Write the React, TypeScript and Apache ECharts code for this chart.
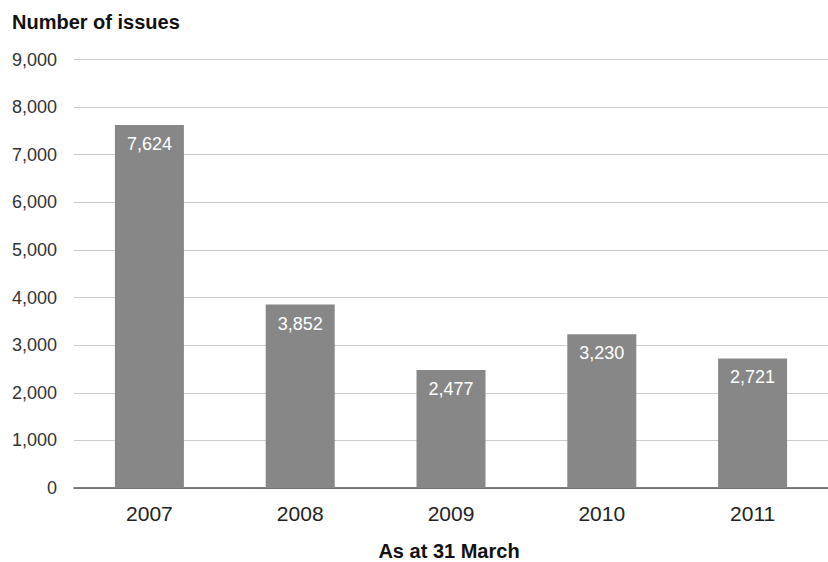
import React, { useEffect, useRef } from "react";
import * as echarts from "echarts";

const categories = ["2007", "2008", "2009", "2010", "2011"];
const values = [7624, 3852, 2477, 3230, 2721];
const yTicks = { min: 0, max: 9000, interval: 1000 };
const yTitle = "Number of issues";
const xTitle = "As at 31 March";

const FONT = "'Liberation Sans', Arial, Helvetica, sans-serif";

export default function App() {
  const ref = useRef<HTMLDivElement>(null);
  useEffect(() => {
    if (!ref.current) return;
    const chart = echarts.init(ref.current, null, { renderer: "svg" });
    chart.setOption({
      animation: false,
      backgroundColor: "#ffffff",
      grid: { left: 74, top: 59.5, width: 765, bottom: 74, containLabel: false },
      graphic: [
        {
          type: "text",
          x: 12,
          y: 21.5,
          style: {
            text: yTitle,
            font: `bold 20px ${FONT}`,
            fill: "#111",
            verticalAlign: "middle",
          },
        },
        {
          type: "text",
          x: 449,
          y: 550.5,
          style: {
            text: xTitle,
            font: `bold 20px ${FONT}`,
            fill: "#111",
            align: "center",
            verticalAlign: "middle",
          },
        },
      ],
      xAxis: {
        type: "category",
        data: categories,
        axisLine: { lineStyle: { color: "#555", width: 1.5 } },
        axisTick: { show: false },
        axisLabel: { color: "#222", fontSize: 21, fontFamily: FONT, margin: 15 },
      },
      yAxis: {
        type: "value",
        min: yTicks.min,
        max: yTicks.max,
        interval: yTicks.interval,
        axisLine: { show: false },
        axisTick: { show: false },
        splitLine: { lineStyle: { color: "#cccccc", width: 1 } },
        axisLabel: {
          color: "#333",
          fontSize: 18,
          fontFamily: FONT,
          margin: 17,
          formatter: (v: number) => v.toLocaleString("en-US"),
        },
      },
      series: [
        {
          type: "bar",
          data: values,
          barWidth: 69,
          itemStyle: { color: "#878787" },
          label: {
            show: true,
            position: "insideTop",
            distance: 10,
            color: "#fff",
            fontSize: 18,
            fontFamily: FONT,
            formatter: (p: any) => Number(p.value).toLocaleString("en-US"),
          },
        },
      ],
    });
    return () => chart.dispose();
  }, []);
  return (
    <div
      ref={ref}
      style={{ position: "absolute", left: 0, top: 0, width: 828, height: 562, overflow: "hidden" }}
    />
  );
}
